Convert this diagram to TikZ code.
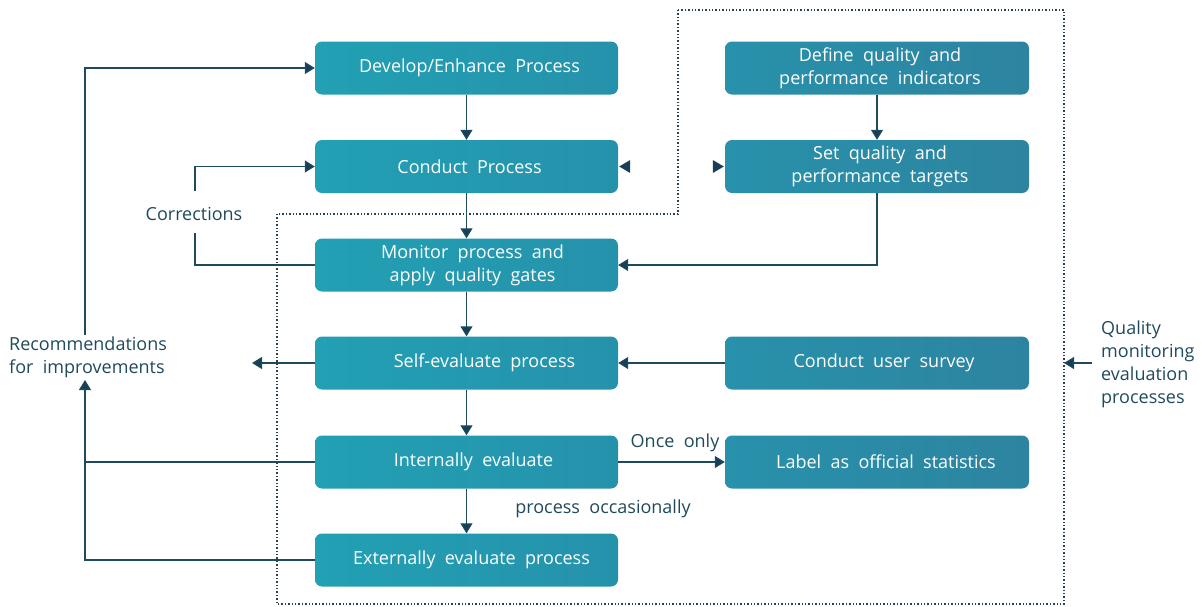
\documentclass[tikz,border=0pt]{standalone}
\usepackage{fontspec}
\setmainfont[WordSpace=2]{Open Sans}
\usetikzlibrary{arrows.meta}
\definecolor{lineC}{HTML}{1E4A5E}
\definecolor{tipC}{HTML}{173F55}
\definecolor{txtC}{HTML}{1F4A5C}
\definecolor{dotC}{HTML}{2A3F4F}
\definecolor{lA}{HTML}{22A0B4}
\definecolor{lB}{HTML}{2592AB}
\definecolor{rA}{HTML}{2891AB}
\definecolor{rB}{HTML}{2D84A0}
\tikzset{
  boxL/.style={rounded corners=7pt, minimum width=303pt, minimum height=53pt, inner sep=2pt,
    left color=lA, right color=lB, draw=none, text=white, align=center,
    font=\fontsize{18}{23}\selectfont},
  boxR/.style={boxL, minimum width=304pt, left color=rA, right color=rB},
  conn/.style={draw=lineC, line width=1.2pt},
  arr/.style={conn, -{Triangle[length=10pt,width=12pt,fill=tipC]}},
  lbl/.style={text=txtC, font=\fontsize{18}{23}\selectfont, inner sep=0pt},
  border/.style={draw=dotC, line width=1.1pt, dash pattern=on 1.4pt off 2pt},
  lonetip/.style={fill=tipC}
}
\begin{document}
\begin{tikzpicture}[x=1pt,y=-1pt]
\useasboundingbox (0,0) rectangle (1202,606);
% dotted border
\draw[border] (678,10) -- (1064,10) -- (1064,604) -- (277,604) -- (277,214) -- (678,214) -- cycle;
% left column
\node[boxL] (dev)  at (466.5,68)  {\hspace*{6pt}Develop/Enhance Process};
\node[boxL] (cond) at (466.5,166.5)   {\hspace*{6pt}Conduct Process};
\node[boxL] (mon)  at (466.5,265) {\hspace*{12pt}Monitor process and\\\hspace*{12pt}apply quality gates};
\node[boxL] (self) at (466.5,363) {\hspace*{36pt}Self-evaluate process};
\node[boxL] (int)  at (466.5,462) {\hspace*{14pt}Internally evaluate};
\node[boxL] (ext)  at (466.5,560) {\hspace*{10pt}Externally evaluate process};
% right column
\node[boxR] (def)    at (877,68)  {\hspace*{6pt}Define quality and\\\hspace*{6pt}performance indicators};
\node[boxR] (set)    at (877,166.5)   {\hspace*{6pt}Set quality and\\\hspace*{6pt}performance targets};
\node[boxR] (survey) at (877,363) {\hspace*{14pt}Conduct user survey};
\node[boxR] (label)  at (877,462) {\hspace*{18pt}Label as official statistics};
% labels
\node[lbl] (corr) at (194,214) {Corrections};
\node[lbl, align=left, anchor=west] (rec) at (9,357) {Recommendations\\for improvements};
\node[lbl, align=left, anchor=north west] (qm) at (1101,321) {Quality\\monitoring\\evaluation\\processes};
\node[lbl] (once) at (675,443) {Once only};
\node[lbl] (occ) at (603,509) {process occasionally};
% coordinates
\coordinate (cb) at (195,233);
\coordinate (ct) at (195,191);
\coordinate (rtop) at (85,335);
\coordinate (rbot) at (85,380);
\coordinate (selfl) at (252,363);
\coordinate (qs) at (1092,363);
\coordinate (qb) at (1064,363);
% main flow
\draw[arr] (dev) -- (cond);
\draw[arr] (cond) -- (mon);
\draw[arr] (mon) -- (self);
\draw[arr] (self) -- (int);
\draw[arr] (int) -- (ext);
\draw[arr] (def) -- (set);
\draw[arr] (set.south) |- (mon.east);
\draw[arr] (survey) -- (self);
\draw[arr] (int) -- (label);
% corrections loop
\draw[conn] (mon.west) -| (cb);
\draw[arr] (ct) |- (cond.west);
% recommendations
\draw[arr] (rtop) |- (dev.west);
\draw[arr] (ext.west) -| (rbot);
\draw[conn] (int.west) -- (int.west -| rbot);
\draw[arr] (self.west) -- (selfl);
% quality monitoring
\draw[arr] (qs) -- (qb);
% lone arrowheads
\fill[lonetip] ([xshift=1pt]cond.east) -- ++(11,-6.5) -- ++(0,13) -- cycle;
\fill[lonetip] ([xshift=-1pt]set.west) -- ++(-11,-6.5) -- ++(0,13) -- cycle;
\end{tikzpicture}
\end{document}
